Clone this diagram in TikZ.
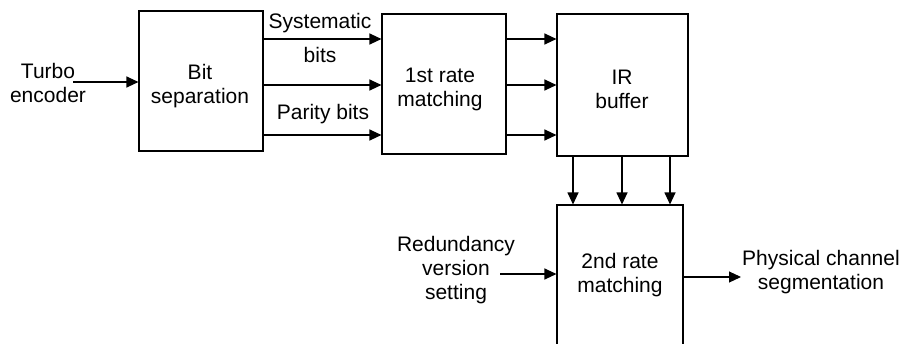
\documentclass[tikz,border=0pt]{standalone}
\usepackage{fontspec}
\setmainfont{Liberation Sans}
\usetikzlibrary{arrows.meta}
\tikzset{
  blk/.style={draw, line width=1.1pt, inner sep=0pt},
  lbl/.style={align=center, inner sep=0pt},
  arr/.style={line width=1.1pt, -{Triangle[length=12pt,width=11pt]}},
}
\begin{document}
\begin{tikzpicture}[x=1pt,y=-1pt,font=\fontsize{21}{24}\selectfont]
\useasboundingbox (0,0) rectangle (913,343);
% processing blocks
\node[blk, minimum width=124pt, minimum height=140pt] (bs) at (201,81) {};
\node[blk, minimum width=124pt, minimum height=140pt] (rm1) at (444,84) {};
\node[blk, minimum width=131pt, minimum height=142pt] (ir) at (622.5,85) {};
\node[blk, minimum width=126pt, minimum height=150pt] (rm2) at (620,280) {};
% block titles
\node[lbl] (bst) at (200,86) {Bit\\separation};
\node[lbl] (rm1t) at (440,89) {1st rate\\matching};
\node[lbl] (irt) at (622,89.5) {IR\\buffer};
\node[lbl] (rm2t) at (620,275) {2nd rate\\matching};
% free text
\node[lbl] (turbo) at (48,83) {Turbo\\encoder};
\node[lbl] (sys) at (320,23) {Systematic};
\node[lbl] (sysb) at (320,55) {bits};
\node[lbl] (par) at (323,114) {Parity bits};
\node[lbl] (rv) at (456,270) {Redundancy\\version\\setting};
\node[lbl, anchor=west] (pcs) at (742,272) {Physical channel\\segmentation};
% row and column guides
\coordinate (r1) at (0,39);
\coordinate (r2) at (0,85);
\coordinate (r3) at (0,135);
\coordinate (c1) at (573,0);
\coordinate (c2) at (622,0);
\coordinate (c3) at (670,0);
\coordinate (tin) at (73,82);
\coordinate (rvin) at (500,274);
\coordinate (pout) at (741,277);
% connectors
\draw[arr] (tin) -- (bs.west |- tin);
\draw[arr] (bs.east |- r1) -- (rm1.west |- r1);
\draw[arr] (bs.east |- r2) -- (rm1.west |- r2);
\draw[arr] (bs.east |- r3) -- (rm1.west |- r3);
\draw[arr] (rm1.east |- r1) -- (ir.west |- r1);
\draw[arr] (rm1.east |- r2) -- (ir.west |- r2);
\draw[arr] (rm1.east |- r3) -- (ir.west |- r3);
\draw[arr] (ir.south -| c1) -- (rm2.north -| c1);
\draw[arr] (ir.south -| c2) -- (rm2.north -| c2);
\draw[arr] (ir.south -| c3) -- (rm2.north -| c3);
\draw[arr] (rvin) -- (rm2.west |- rvin);
\draw[arr] (rm2.east |- pout) -- (pout);
\end{tikzpicture}
\end{document}
